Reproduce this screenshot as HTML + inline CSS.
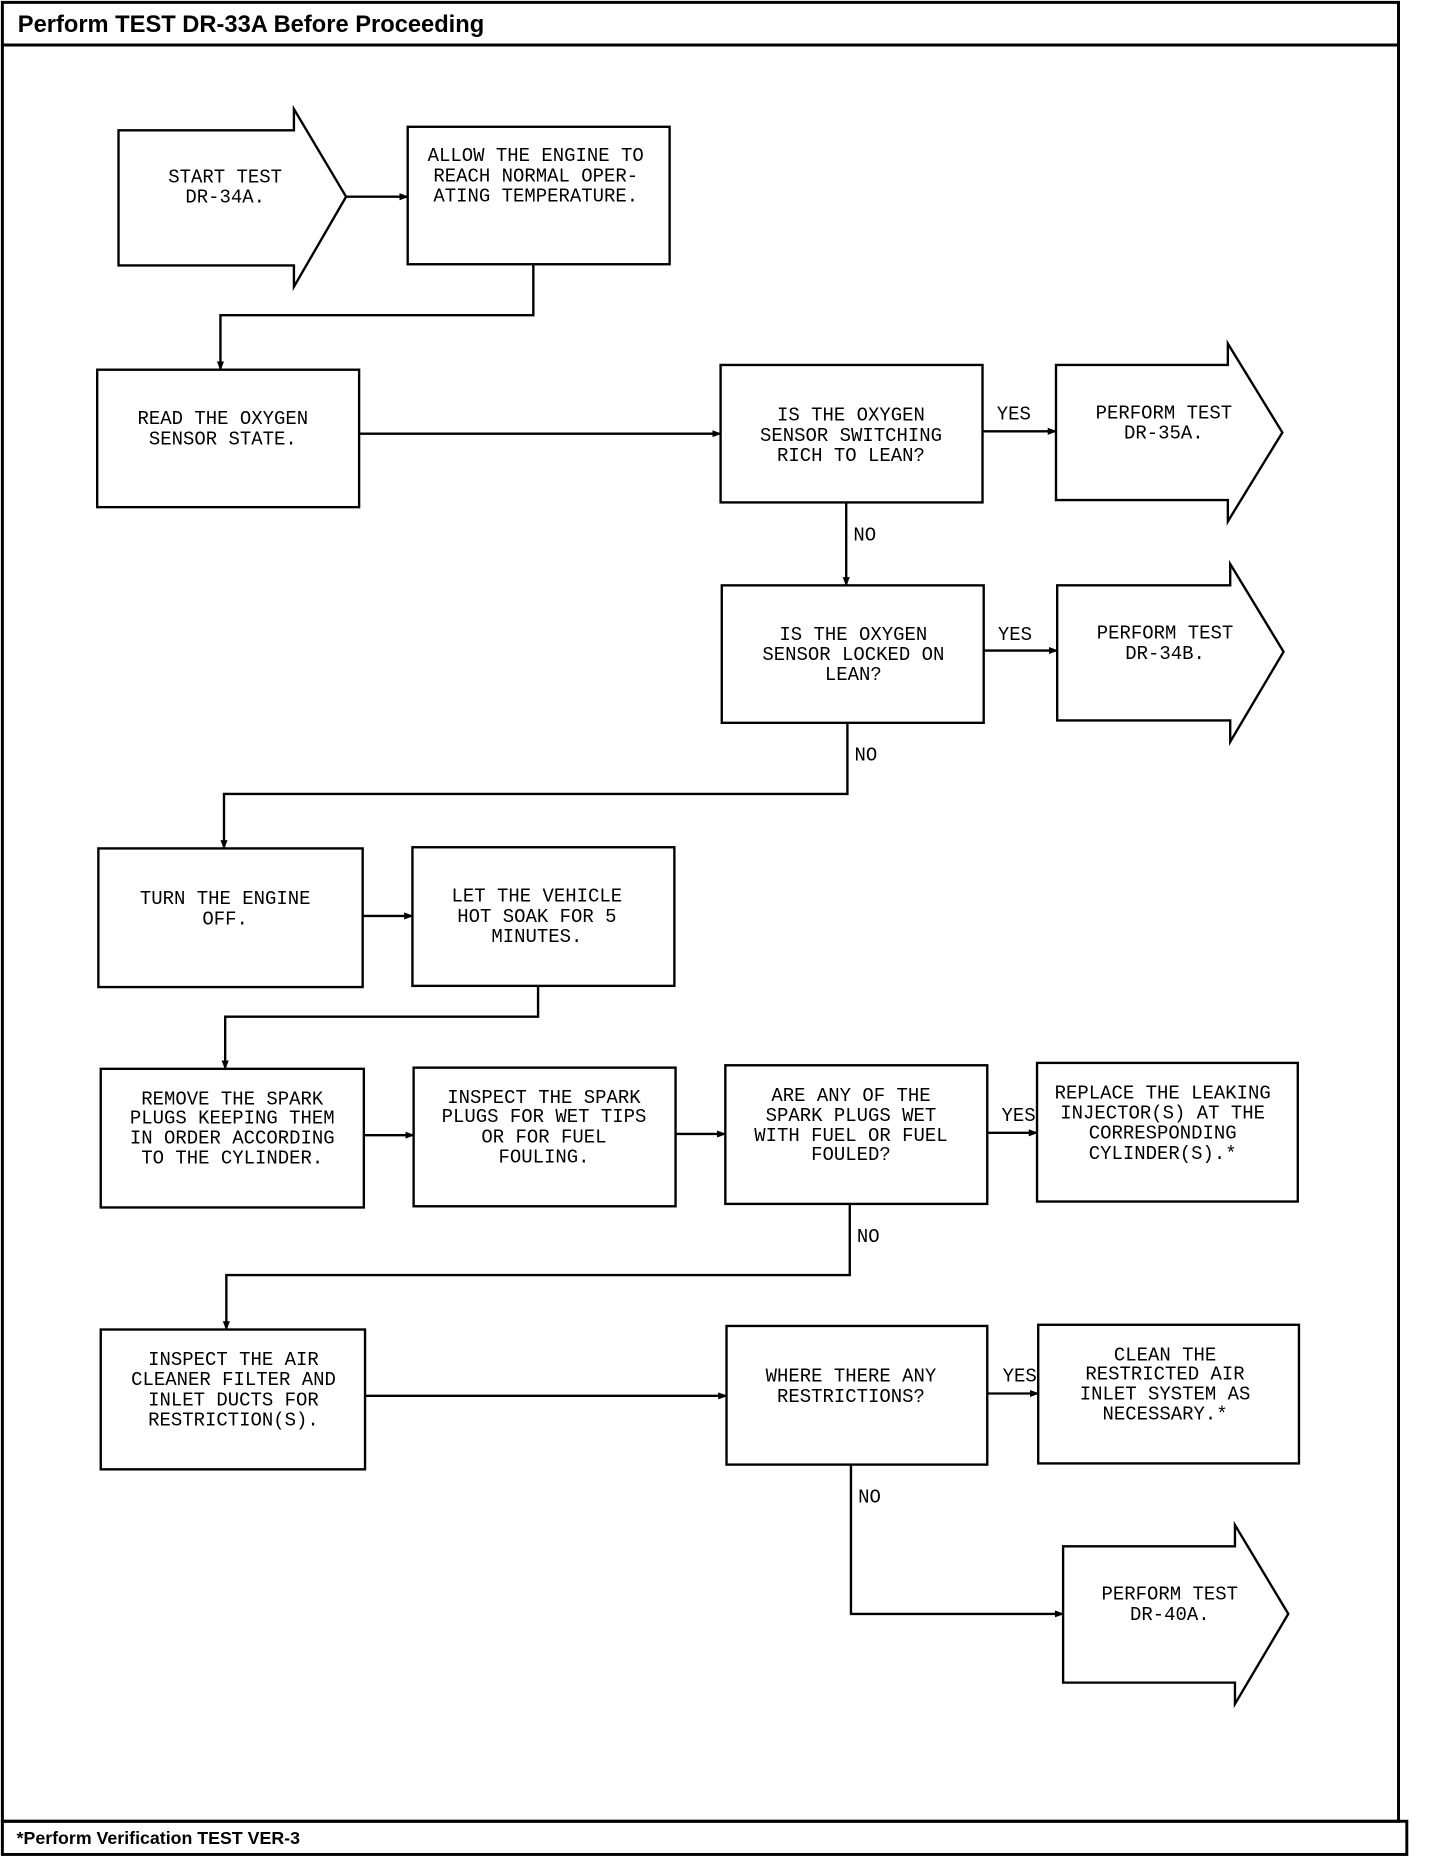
<!DOCTYPE html>
<html><head><meta charset="utf-8"><style>
html,body{margin:0;padding:0;background:#fff;}
svg{display:block;}
text{font-family:"Liberation Mono","DejaVu Sans Mono",monospace;font-size:16px;fill:#000;}
.t{text-anchor:middle;}
.h{font-family:"Liberation Sans",sans-serif;font-weight:bold;}
</style></head><body>
<svg width="1440" height="1858" viewBox="0 0 1215 1568" preserveAspectRatio="none" xmlns="http://www.w3.org/2000/svg">
<defs><marker id="a" markerWidth="8" markerHeight="8" refX="7" refY="4" orient="auto" markerUnits="userSpaceOnUse"><path d="M0,1 L8,4 L0,7 z" fill="#000"/></marker></defs>
<g fill="none" stroke="#000" stroke-width="2">
<rect x="2" y="2" width="1178" height="1535" stroke-width="2.5"/>
<line x1="2" y1="38" x2="1180" y2="38" stroke-width="2.5"/>
<rect x="2" y="1537" width="1185" height="28" stroke-width="2.5"/>
<path d="M100,110 H248 V92 L292,166 L248,242 V224 H100 Z"/>
<rect x="344" y="107" width="221" height="116"/>
<line x1="292" y1="166" x2="344" y2="166" marker-end="url(#a)"/>
<polyline points="450,223 450,266 186,266 186,312" marker-end="url(#a)"/>
<rect x="82" y="312" width="221" height="116"/>
<line x1="303" y1="366" x2="608" y2="366" marker-end="url(#a)"/>
<rect x="608" y="308" width="221" height="116"/>
<line x1="829" y1="364" x2="891" y2="364" marker-end="url(#a)"/>
<path d="M891,308 H1036 V290 L1082,365 L1036,440 V422 H891 Z"/>
<line x1="714" y1="424" x2="714" y2="494" marker-end="url(#a)"/>
<rect x="609" y="494" width="221" height="116"/>
<line x1="830" y1="549" x2="892" y2="549" marker-end="url(#a)"/>
<path d="M892,494 H1038 V476 L1083,550 L1038,626 V608 H892 Z"/>
<polyline points="715,610 715,670 189,670 189,716" marker-end="url(#a)"/>
<rect x="83" y="716" width="223" height="117"/>
<line x1="306" y1="773" x2="348" y2="773" marker-end="url(#a)"/>
<rect x="348" y="715" width="221" height="117"/>
<polyline points="454,832 454,858 190,858 190,902" marker-end="url(#a)"/>
<rect x="85" y="902" width="222" height="117"/>
<line x1="307" y1="958" x2="349" y2="958" marker-end="url(#a)"/>
<rect x="349" y="901" width="221" height="117"/>
<line x1="570" y1="957" x2="612" y2="957" marker-end="url(#a)"/>
<rect x="612" y="899" width="221" height="117"/>
<line x1="833" y1="956" x2="875" y2="956" marker-end="url(#a)"/>
<rect x="875" y="897" width="220" height="117"/>
<polyline points="717,1016 717,1076 191,1076 191,1122" marker-end="url(#a)"/>
<rect x="85" y="1122" width="223" height="118"/>
<line x1="308" y1="1178" x2="613" y2="1178" marker-end="url(#a)"/>
<rect x="613" y="1119" width="220" height="117"/>
<line x1="833" y1="1176" x2="876" y2="1176" marker-end="url(#a)"/>
<rect x="876" y="1118" width="220" height="117"/>
<polyline points="718,1236 718,1362 897,1362" marker-end="url(#a)"/>
<path d="M897,1305 H1042 V1287 L1087,1362 L1042,1438 V1420 H897 Z"/>
</g>
<text class="h" x="15" y="27" style="font-size:20px">Perform TEST DR-33A Before Proceeding</text>
<text class="h" x="14" y="1556" style="font-size:15px">*Perform Verification TEST VER-3</text>
<g class="t">
<text x="190" y="154">START TEST</text><text x="190" y="171">DR-34A.</text>
<text x="452" y="136">ALLOW THE ENGINE TO</text><text x="452" y="153">REACH NORMAL OPER-</text><text x="452" y="170">ATING TEMPERATURE.</text>
<text x="188" y="358">READ THE OXYGEN</text><text x="188" y="375">SENSOR STATE.</text>
<text x="718" y="355">IS THE OXYGEN</text><text x="718" y="372">SENSOR SWITCHING</text><text x="718" y="389">RICH TO LEAN?</text>
<text x="982" y="353">PERFORM TEST</text><text x="982" y="370">DR-35A.</text>
<text x="720" y="540">IS THE OXYGEN</text><text x="720" y="557">SENSOR LOCKED ON</text><text x="720" y="574">LEAN?</text>
<text x="983" y="539">PERFORM TEST</text><text x="983" y="556">DR-34B.</text>
<text x="190" y="763">TURN THE ENGINE</text><text x="190" y="780">OFF.</text>
<text x="453" y="761">LET THE VEHICLE</text><text x="453" y="778">HOT SOAK FOR 5</text><text x="453" y="795">MINUTES.</text>
<text x="196" y="932">REMOVE THE SPARK</text><text x="196" y="948">PLUGS KEEPING THEM</text><text x="196" y="965">IN ORDER ACCORDING</text><text x="196" y="982">TO THE CYLINDER.</text>
<text x="459" y="931">INSPECT THE SPARK</text><text x="459" y="947">PLUGS FOR WET TIPS</text><text x="459" y="964">OR FOR FUEL</text><text x="459" y="981">FOULING.</text>
<text x="718" y="929">ARE ANY OF THE</text><text x="718" y="946">SPARK PLUGS WET</text><text x="718" y="963">WITH FUEL OR FUEL</text><text x="718" y="979">FOULED?</text>
<text x="981" y="927">REPLACE THE LEAKING</text><text x="981" y="944">INJECTOR(S) AT THE</text><text x="981" y="961">CORRESPONDING</text><text x="981" y="978">CYLINDER(S).*</text>
<text x="197" y="1152">INSPECT THE AIR</text><text x="197" y="1169">CLEANER FILTER AND</text><text x="197" y="1186">INLET DUCTS FOR</text><text x="197" y="1203">RESTRICTION(S).</text>
<text x="718" y="1166">WHERE THERE ANY</text><text x="718" y="1183">RESTRICTIONS?</text>
<text x="983" y="1148">CLEAN THE</text><text x="983" y="1164">RESTRICTED AIR</text><text x="983" y="1181">INLET SYSTEM AS</text><text x="983" y="1198">NECESSARY.*</text>
<text x="987" y="1350">PERFORM TEST</text><text x="987" y="1367">DR-40A.</text>
</g>
<text x="841" y="354">YES</text>
<text x="720" y="456">NO</text>
<text x="842" y="540">YES</text>
<text x="721" y="642">NO</text>
<text x="845" y="946">YES</text>
<text x="723" y="1048">NO</text>
<text x="846" y="1166">YES</text>
<text x="724" y="1268">NO</text>
</svg>
</body></html>
